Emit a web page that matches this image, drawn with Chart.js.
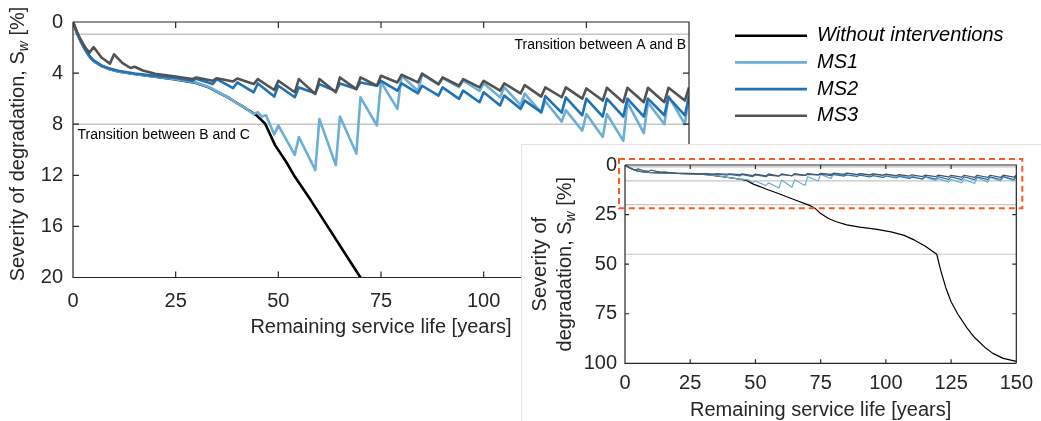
<!DOCTYPE html>
<html><head><meta charset="utf-8">
<script src="https://cdn.jsdelivr.net/npm/chart.js@4.4.1/dist/chart.umd.min.js"></script>
<style>
html,body{margin:0;padding:0;background:#fff;}
#wrap{position:relative;width:1041px;height:421px;overflow:hidden;background:#fff;}
#mainBox{position:absolute;left:0;top:0;width:1041px;height:421px;}
#insetBox{position:absolute;left:521px;top:144px;width:520px;height:277px;background:#fff;border-left:1px solid #e4e4e4;border-top:1px solid #e4e4e4;box-sizing:border-box;}
#inset{position:absolute;left:0;top:0;}
</style></head><body>
<div id="wrap">
  <div id="mainBox"><canvas id="main" width="1041" height="421"></canvas></div>
  <div id="insetBox"><canvas id="inset" width="519" height="276"></canvas></div>
</div>
<script>
// ---------------- DATA ----------------
const seriesLabels = ['Without interventions', 'MS1', 'MS2', 'MS3'];

const blackYears  = [0,1,2,3,4,5,7,9,11,15,20,25,30,33,35,38,40,42,44.7,46.8,49.2,52,54,58,62,66,70,71,73,75,78,81,85,90,96,102,107,111,115,119.5,121,123,125,127.5,131,134,138,141,145,150];
const blackValues = [0,0.9,1.6,2.2,2.7,3.05,3.45,3.7,3.87,4.07,4.28,4.5,4.78,5.1,5.45,5.95,6.36,6.75,7.31,7.96,9.64,11.0,12.1,14.0,16.0,18.0,20.0,20.5,22.0,24.5,27.0,28.6,30.2,31.3,32.3,33.7,35.5,37.9,40.8,45.0,53,62,69,75,82,87,92,95,97.5,99];

const ms1Years  = [0,1,2,3,4,5,7,9,11,15,20,25,30,33,35,38,40,42,44,45,46,47,49,50,54,55,59,60,64,65,69,70,74,75,79,80,84,85,89,90,94,95,99,100,104,105,109,110,114,115,119,120,124,125,129,130,134,135,139,140,144,145,149,150];
const ms1Values = [0,0.9,1.6,2.2,2.7,3.05,3.45,3.7,3.87,4.07,4.28,4.48,4.76,5.08,5.42,5.95,6.36,6.75,7.2,7.05,7.4,7.3,8.8,8.1,10.4,9.0,11.6,7.6,11.2,7.4,10.3,5.9,8.1,4.7,6.8,4.2,5.4,4.1,4.9,4.4,5.1,4.6,5.4,4.8,5.9,5.1,6.5,5.6,7.1,6.2,7.8,6.9,8.5,7.2,9.0,7.2,9.3,6.3,8.7,6.3,8.0,5.8,8.0,5.6];

const ms2Years  = [0,1,2,3,4,5,7,9,11,15,20,25,29,30,34,35,39,40,44,45,49,50,54,55,59,60,64,65,69,70,74,75,79,80,84,85,89,90,94,95,99,100,104,105,109,110,114,115,119,120,124,125,129,130,134,135,139,140,144,145,149,150];
const ms2Values = [0,0.85,1.55,2.15,2.65,3.0,3.42,3.65,3.82,4.03,4.22,4.38,4.6,4.45,4.86,4.47,5.17,4.73,5.5,4.81,5.84,4.99,5.89,5.12,5.58,4.86,5.43,4.81,5.25,4.73,4.99,4.6,5.37,4.81,5.58,4.99,5.76,5.12,6.02,5.37,6.28,5.5,6.54,5.76,6.8,6.15,7.05,5.8,7.1,5.9,7.3,6.0,7.4,6.0,7.4,6.0,7.4,6.0,7.3,5.9,7.3,5.8];

const ms3Years  = [0,1,2,3,4,5,7,9,10,12,14,15,17,20,25,29,30,34,35,39,40,44,45,49,50,54,55,59,60,64,65,69,70,74,75,79,80,84,85,89,90,94,95,99,100,104,105,109,110,114,115,119,120,124,125,129,130,134,135,139,140,144,145,149,150];
const ms3Values = [0,0.8,1.45,2.0,2.4,1.96,2.8,3.26,2.53,3.2,3.6,3.5,3.8,4.05,4.27,4.47,4.35,4.6,4.4,4.65,4.42,4.86,4.47,5.32,4.6,5.5,4.47,5.63,4.47,5.5,4.34,5.25,4.34,4.99,4.21,4.73,4.13,4.73,4.03,4.86,4.34,4.99,4.47,5.12,4.6,5.37,4.81,5.58,4.94,5.84,5.12,5.89,5.12,6.0,5.2,6.15,5.15,6.28,5.15,6.28,5.15,6.28,5.15,6.15,5.12];

const mainTransitionLevels  = [0.95, 8];
const mainTransitionLabels  = ['Transition between A and B', 'Transition between B and C'];
const insetTransitionLevels = [0.95, 8, 20, 45];
const xTickStep = 25;
const mainYTickStep = 4;
const insetYTickStep = 25;
const zoomRegion = {xMin: 0, xMax: 150, yMin: 0, yMax: 20};

// ---------------- STYLE ----------------
const FONT = "'Liberation Sans', Arial, Helvetica, sans-serif";
const TEXT = '#262626';
const COLORS = ['#000000', '#6baed6', '#2171b5', '#525252'];
const toPoints = (xs, ys) => xs.map((x, i) => ({x: x, y: ys[i]}));

function makeDatasets(width) {
  const sets = [[blackYears, blackValues], [ms1Years, ms1Values], [ms2Years, ms2Values], [ms3Years, ms3Values]];
  return sets.map((s, i) => ({
    label: seriesLabels[i],
    data: toPoints(s[0], s[1]),
    borderColor: COLORS[i],
    backgroundColor: COLORS[i],
    borderWidth: width,
    pointRadius: 0,
    pointHoverRadius: 0,
    pointStyle: 'line',
    tension: 0,
    fill: false,
    borderJoinStyle: 'round',
    order: 4 - i
  }));
}

function transitionsPlugin(levels, color, width) {
  return {
    id: 'transitions',
    beforeDatasetsDraw(chart) {
      const {ctx, chartArea} = chart;
      const y = chart.scales.y;
      ctx.save();
      ctx.strokeStyle = color;
      ctx.lineWidth = width;
      levels.forEach(v => {
        const py = y.getPixelForValue(v);
        ctx.beginPath();
        ctx.moveTo(chartArea.left, py);
        ctx.lineTo(chartArea.right, py);
        ctx.stroke();
      });
      ctx.restore();
    }
  };
}

function framePlugin(tickLen, lw) {
  return {
    id: 'frame',
    afterDatasetsDraw(chart) {
      const {ctx, chartArea: a} = chart;
      const xs = chart.scales.x, ys = chart.scales.y;
      ctx.save();
      ctx.strokeStyle = TEXT;
      ctx.lineWidth = lw;
      ctx.beginPath();
      ctx.moveTo(a.left, a.top); ctx.lineTo(a.right, a.top); ctx.lineTo(a.right, a.bottom);
      ctx.moveTo(a.left, a.top); ctx.lineTo(a.left, a.bottom); ctx.lineTo(a.right, a.bottom);
      xs.ticks.forEach((t, i) => {
        const px = xs.getPixelForTick(i);
        if (Math.abs(px - a.left) < 1 || Math.abs(px - a.right) < 1) return;
        ctx.moveTo(px, a.bottom); ctx.lineTo(px, a.bottom - tickLen);
        ctx.moveTo(px, a.top); ctx.lineTo(px, a.top + tickLen);
      });
      ys.ticks.forEach((t, i) => {
        const py = ys.getPixelForTick(i);
        if (Math.abs(py - a.top) < 1 || Math.abs(py - a.bottom) < 1) return;
        ctx.moveTo(a.left, py); ctx.lineTo(a.left + tickLen, py);
        ctx.moveTo(a.right, py); ctx.lineTo(a.right - tickLen, py);
      });
      ctx.stroke();
      ctx.restore();
    }
  };
}

function drawRotated(ctx, cx, cy, parts) {
  ctx.save();
  ctx.translate(cx, cy);
  ctx.rotate(-Math.PI / 2);
  ctx.textBaseline = 'middle';
  ctx.textAlign = 'left';
  ctx.fillStyle = TEXT;
  let total = 0;
  parts.forEach(p => { ctx.font = p.font; p.w = ctx.measureText(p.text).width; total += p.w; });
  let u = -total / 2;
  parts.forEach(p => { ctx.font = p.font; ctx.fillText(p.text, u, p.dy || 0); u += p.w; });
  ctx.restore();
}

const F20 = '20px ' + FONT;
const FSUB = 'italic 14px ' + FONT;

const mainExtras = {
  id: 'mainExtras',
  afterDraw(chart) {
    const {ctx, chartArea: a} = chart;
    const ys = chart.scales.y;
    ctx.save();
    ctx.fillStyle = '#000';
    ctx.font = '14px ' + FONT;
    ctx.textBaseline = 'alphabetic';
    ctx.textAlign = 'right';
    ctx.fillText(mainTransitionLabels[0], a.right - 3, ys.getPixelForValue(mainTransitionLevels[0]) + 14.7);
    ctx.textAlign = 'left';
    ctx.fillText(mainTransitionLabels[1], a.left + 4.5, ys.getPixelForValue(mainTransitionLevels[1]) + 14.5);
    ctx.restore();
    drawRotated(ctx, 18, 144, [
      {text: 'Severity of degradation, S', font: F20},
      {text: 'w', font: FSUB, dy: 6},
      {text: ' [%]', font: F20}
    ]);
  }
};

const insetExtras = {
  id: 'insetExtras',
  afterDraw(chart) {
    const {ctx, chartArea: a} = chart;
    const xs = chart.scales.x, ys = chart.scales.y;
    const cy = (a.top + a.bottom) / 2;
    drawRotated(ctx, 18, cy, [{text: 'Severity of', font: F20}]);
    drawRotated(ctx, 43, cy, [
      {text: 'degradation, S', font: F20},
      {text: 'w', font: FSUB, dy: 6},
      {text: ' [%]', font: F20}
    ]);
    // dashed zoom region marker
    const x0 = xs.getPixelForValue(zoomRegion.xMin) - 6;
    const x1 = xs.getPixelForValue(zoomRegion.xMax) + 6;
    const y0 = ys.getPixelForValue(zoomRegion.yMin) - 6;
    const y1 = ys.getPixelForValue(zoomRegion.yMax) + 3.5;
    ctx.save();
    ctx.strokeStyle = '#ff5a1e';
    ctx.lineWidth = 2;
    ctx.setLineDash([6, 4]);
    ctx.strokeRect(x0, y0, x1 - x0, y1 - y0);
    ctx.restore();
  }
};

function axisTicks(size, pad) {
  return {font: {family: FONT, size: size, lineHeight: 1.2}, color: TEXT, padding: pad, maxRotation: 0};
}

// ---------------- MAIN CHART ----------------
new Chart(document.getElementById('main'), {
  type: 'line',
  data: {datasets: makeDatasets(2.6)},
  options: {
    responsive: false,
    animation: false,
    devicePixelRatio: 1,
    events: [],
    layout: {padding: {left: 0, top: 19, right: 32.7, bottom: 81.5}},
    scales: {
      x: {
        type: 'linear', position: 'bottom', min: 0, max: 150,
        ticks: Object.assign(axisTicks(20, 12), {stepSize: xTickStep}),
        grid: {display: false, drawTicks: false},
        border: {display: false},
        title: {display: true, text: 'Remaining service life [years]', color: TEXT,
                font: {family: FONT, size: 20, lineHeight: 1.2}, padding: {top: -10, bottom: 0}}
      },
      y: {
        type: 'linear', position: 'left', min: 0, max: 20, reverse: true,
        ticks: Object.assign(axisTicks(20, 10), {stepSize: mainYTickStep}),
        grid: {display: false, drawTicks: false},
        border: {display: false},
        afterFit(s) { s.width = 73; }
      },
      yR: {
        type: 'linear', position: 'right', display: true,
        ticks: {display: false}, grid: {display: false, drawTicks: false}, border: {display: false},
        afterFit(s) { s.width = 39.3; }
      }
    },
    plugins: {
      legend: {
        display: true, position: 'right', align: 'start', maxWidth: 280,
        labels: {
          usePointStyle: true, pointStyle: 'line', pointStyleWidth: 72, padding: 6.7,
          color: '#000', font: {family: FONT, size: 20, style: 'italic'},
          sort: (a, b) => a.datasetIndex - b.datasetIndex
        }
      },
      tooltip: {enabled: false}
    }
  },
  plugins: [transitionsPlugin(mainTransitionLevels, '#c6c6c6', 1.5), framePlugin(6, 1.2), mainExtras]
});

// ---------------- INSET CHART ----------------
new Chart(document.getElementById('inset'), {
  type: 'line',
  data: {datasets: makeDatasets(1.2)},
  options: {
    responsive: false,
    animation: false,
    devicePixelRatio: 1,
    events: [],
    layout: {padding: {left: 0, top: 20, right: 18, bottom: 0.2}},
    scales: {
      x: {
        type: 'linear', position: 'bottom', min: 0, max: 150,
        ticks: Object.assign(axisTicks(20, 8), {stepSize: xTickStep}),
        grid: {display: false, drawTicks: false},
        border: {display: false},
        title: {display: true, text: 'Remaining service life [years]', color: TEXT,
                font: {family: FONT, size: 20, lineHeight: 1.2}, padding: {top: -4.5, bottom: -2}}
      },
      y: {
        type: 'linear', position: 'left', min: 0, max: 100, reverse: true,
        ticks: Object.assign(axisTicks(20, 8), {stepSize: insetYTickStep}),
        grid: {display: false, drawTicks: false},
        border: {display: false},
        afterFit(s) { s.width = 103; }
      }
    },
    plugins: {legend: {display: false}, tooltip: {enabled: false}}
  },
  plugins: [transitionsPlugin(insetTransitionLevels, '#c6c6c6', 1.2), framePlugin(4, 1.2), insetExtras]
});
</script>
</body></html>
